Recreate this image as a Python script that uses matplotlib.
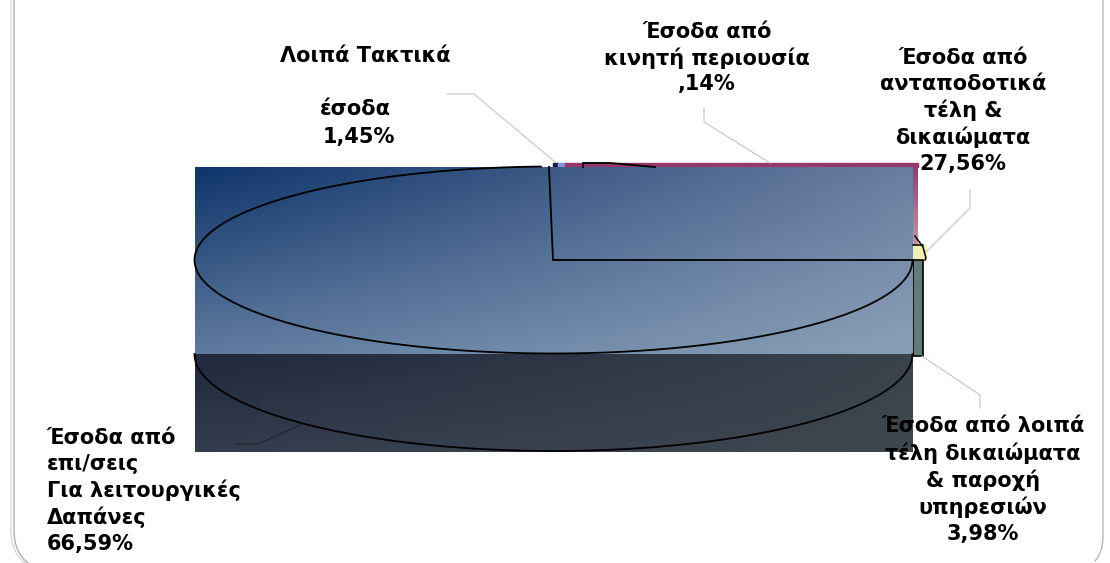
import numpy as np
import matplotlib
matplotlib.use("Agg")
import matplotlib.pyplot as plt
from matplotlib.patches import Rectangle
from matplotlib.colors import to_rgb

# ---- data
labels = ["Έσοδα από\nκινητή περιουσία\n,14%",
          "Έσοδα από\nανταποδοτικά\nτέλη &\nδικαιώματα\n27,56%",
          "Έσοδα από λοιπά\nτέλη δικαιώματα\n& παροχή\nυπηρεσιών\n3,98%"]
left_label = "Έσοδα από\nεπι/σεις\nΓια λειτουργικές\nΔαπάνες\n66,59%"
shares = [66.59, 1.45, 0.14, 27.56, 3.98]

W, H = 1110, 563
fig = plt.figure(figsize=(W/100, H/100), dpi=100)
ax = fig.add_axes([0, 0, 1, 1])


def grad(x0, x1, y0, y1, tl, tr, bl, br, z=1):
    n = 64
    u = np.linspace(0, 1, n)
    uu, vv = np.meshgrid(u, u)
    c = [np.array(to_rgb(k)) for k in (tl, tr, bl, br)]
    img = ((1-uu)*(1-vv))[..., None]*c[0] + (uu*(1-vv))[..., None]*c[1] \
        + ((1-uu)*vv)[..., None]*c[2] + (uu*vv)[..., None]*c[3]
    ax.imshow(img, extent=(x0, x1, y1, y0), aspect="auto", zorder=z, interpolation="bilinear")


# colour strips
ax.add_patch(Rectangle((553, 163), 5, 4, color="#1a1a4a", zorder=1))
ax.add_patch(Rectangle((558, 163), 7, 4, color="#8a90e0", zorder=1))
ax.add_patch(Rectangle((565, 163), 353, 4, color="#96386c", zorder=1))
grad(913, 918, 163, 245, "#96386c", "#96386c", "#cc90ae", "#cc90ae", z=1)
ax.add_patch(Rectangle((913, 245), 13, 15, color="#f2f0b8", zorder=1))
ax.add_patch(Rectangle((913, 260), 10, 96, facecolor="#627d78", edgecolor="black", lw=1.2, zorder=1))

# body
grad(195, 913, 167, 354, "#0f356b", "#6a7d9f", "#5f7a9e", "#8aa0b8", z=2)
grad(195, 913, 354, 452, "#20293d", "#3a424c", "#333d4e", "#3f474f", z=2)

# pie outlines
cx, cy, rx, ry = 553.5, 260, 359, 93.5
k = dict(color="black", lw=1.3, zorder=5)
t = np.radians(np.linspace(0, 268, 300))
ax.plot(cx + rx*np.cos(t), cy + ry*np.sin(t), **k)
t = np.radians(np.linspace(0, 180, 200))
ax.plot(cx + rx*np.cos(t), 354 + 97*np.sin(t), **k)
ax.plot([549, 553, 913], [167, 260, 260], **k)
ax.plot([583, 583, 610, 655], [167, 163, 163, 167], **k)
ax.plot([915, 923, 926, 925], [236, 247, 258, 260], color="black", lw=1.1, zorder=5)
ax.plot([913, 923], [245, 245], color="black", lw=1.1, zorder=5)

# leader lines
g = dict(color="#c4c4c4", lw=0.8, zorder=4)
ax.plot([447, 474, 555], [94, 94, 162], **g)
ax.plot([704, 704, 770], [108, 122, 163], **g)
ax.plot([926, 970, 970], [252, 208, 190], **g)
ax.plot([922, 980, 980], [356, 395, 408], **g)
ax.plot([235, 258, 300], [444, 444, 425], color="#20242c", lw=0.8, zorder=4)

# frame
s = np.linspace(0, 1, 30)
for x0, col in ((11, "#d4d4d4"), (14, "#a8a8a8")):
    bx = (1-s)**2*x0 + 2*s*(1-s)*x0 + s**2*(x0+14)
    by = (1-s)**2*530 + 2*s*(1-s)*552 + s**2*563
    ax.plot(np.r_[x0, bx], np.r_[-2, by], color=col, lw=0.9, zorder=1)
bx = (1-s)**2*1103 + 2*s*(1-s)*1103 + s**2*1095
by = (1-s)**2*535 + 2*s*(1-s)*552 + s**2*561
ax.plot(np.r_[1103, bx], np.r_[-2, by], color="#b0b0b0", lw=0.9, zorder=1)

# text
tk = dict(family="DejaVu Sans", fontweight="bold", fontsize=15, color="black", zorder=6, linespacing=1.33)
ax.text(365, 56, "Λοιπά Τακτικά", ha="center", va="center", **tk)
ax.text(320, 109, "έσοδα", ha="left", va="center", **tk)
ax.text(323, 137, "1,45%", ha="left", va="center", **tk)
ax.text(707, 58, labels[0], ha="center", va="center", **tk)
ax.text(963, 111, labels[1], ha="center", va="center", **tk)
ax.text(983, 480, labels[2], ha="center", va="center", **tk)
ax.text(47, 491, left_label, ha="left", va="center", **tk)

ax.set_xlim(0, W); ax.set_ylim(H, 0); ax.axis("off")
fig.savefig("out.png", dpi=100)
